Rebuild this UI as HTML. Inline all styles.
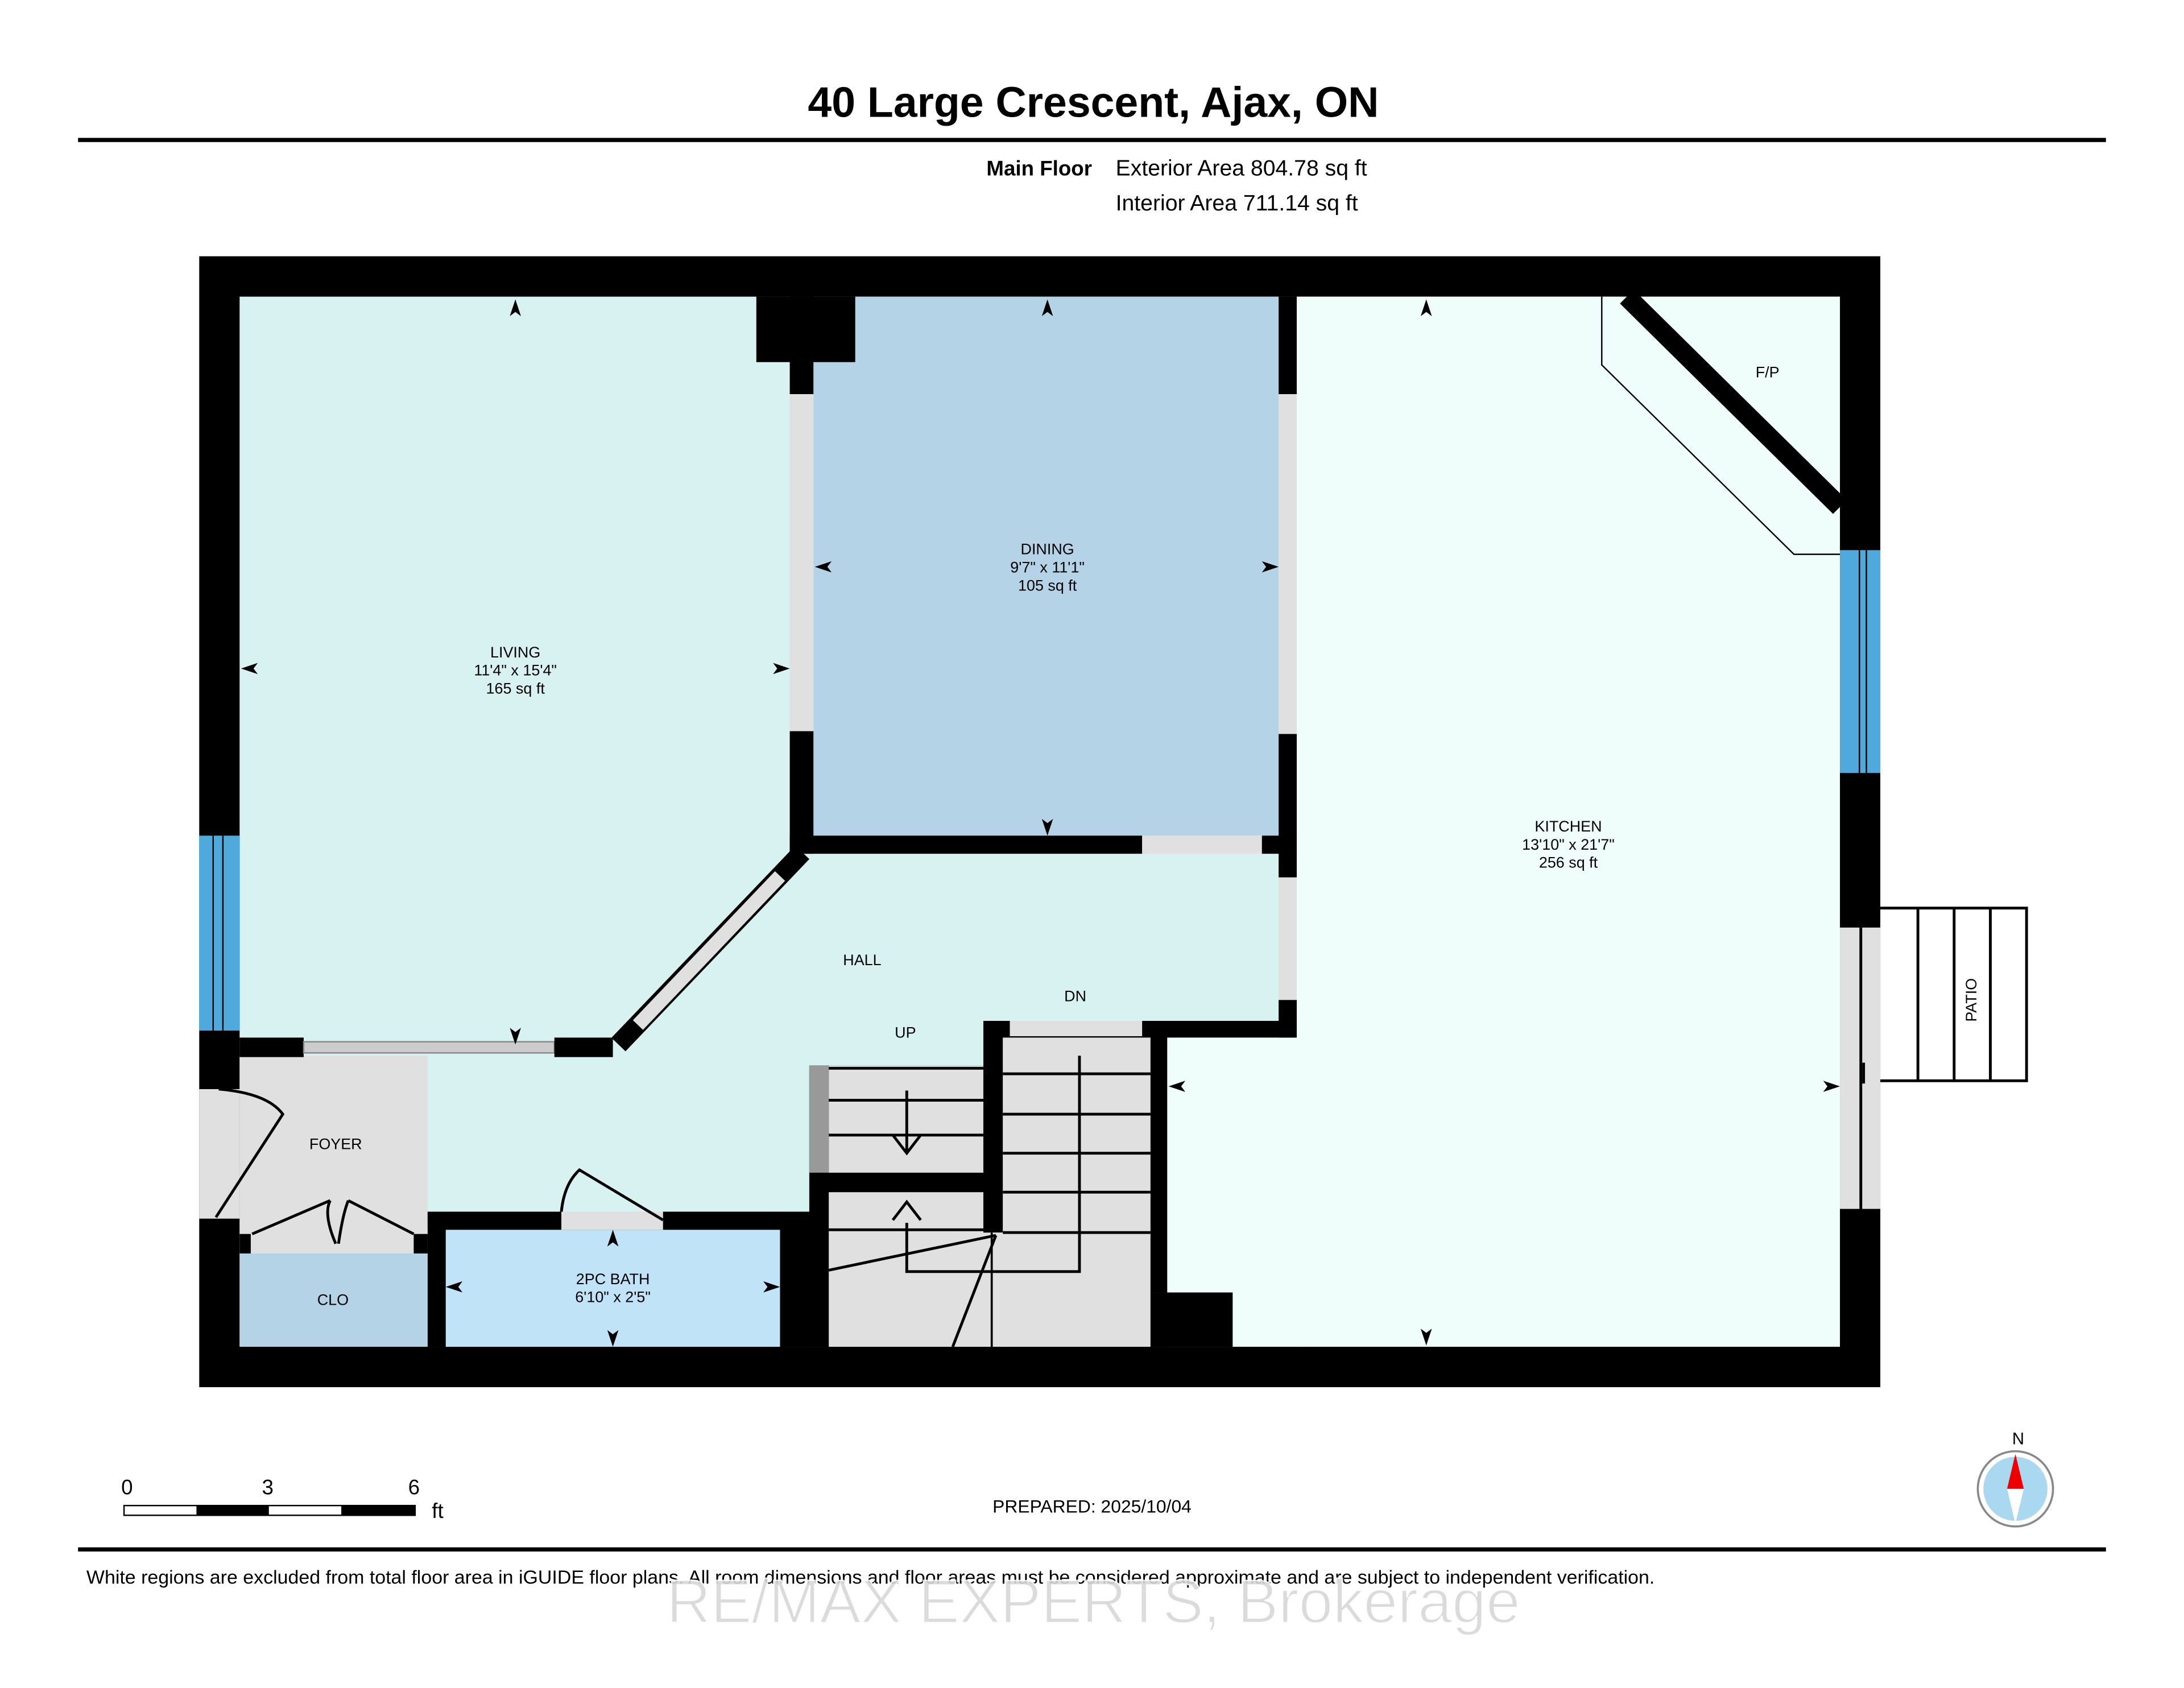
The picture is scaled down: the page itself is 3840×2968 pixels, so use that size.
<!DOCTYPE html>
<html><head><meta charset="utf-8"><style>
html,body{margin:0;padding:0;background:#fff;}
svg{display:block;}
text{font-family:"Liberation Sans",Arial,sans-serif;}
</style></head><body>
<svg width="3840" height="2968" viewBox="0 0 1568 1212" xmlns="http://www.w3.org/2000/svg">
<defs><path id="a" d="M0,-8 L4,4 L0,1 L-4,4 Z" fill="#000"/></defs>
<rect width="1568" height="1212" fill="#fff"/>
<text x="580" y="84" font-size="30.5" font-weight="bold" textLength="410" lengthAdjust="spacingAndGlyphs">40 Large Crescent, Ajax, ON</text>
<rect x="56" y="99" width="1456" height="3" fill="#000"/>
<text x="784" y="126" font-size="15" font-weight="bold" text-anchor="end">Main Floor</text>
<text x="801" y="126" font-size="16">Exterior Area 804.78 sq ft</text>
<text x="801" y="151" font-size="16">Interior Area 711.14 sq ft</text>

<rect x="143" y="184" width="1207" height="812" fill="#000"/>
<rect x="172" y="213" width="1149" height="754" fill="#d8f2f2"/>
<rect x="931" y="213" width="390" height="754" fill="#effdfb"/>
<rect x="838" y="742" width="100" height="225" fill="#effdfb"/>
<rect x="584" y="213" width="334" height="387" fill="#b4d3e6"/>
<rect x="172" y="758" width="135" height="128" fill="#e0e0e0"/>
<rect x="172" y="900" width="135" height="67" fill="#b4d3e6"/>
<rect x="172" y="886" width="135" height="14" fill="#e0e0e0"/>
<rect x="320" y="883" width="240" height="84" fill="#c0e3f7"/>
<rect x="307" y="870" width="13" height="97" fill="#000"/>
<rect x="307" y="870" width="288" height="13" fill="#000"/>
<rect x="403" y="870" width="73" height="13" fill="#e0e0e0"/>
<rect x="560" y="870" width="35" height="97" fill="#000"/>
<rect x="581" y="765" width="125" height="202" fill="#000"/>
<rect x="595" y="765" width="111" height="77" fill="#e0e0e0"/>
<rect x="581" y="765" width="14" height="77" fill="#999"/>
<rect x="595" y="856" width="117" height="111" fill="#e0e0e0"/>
<rect x="706" y="733" width="14" height="152" fill="#000"/>
<rect x="720" y="745" width="106" height="222" fill="#e0e0e0"/>
<rect x="712" y="885" width="14" height="82" fill="#e0e0e0"/>
<rect x="826" y="733" width="12" height="195" fill="#000"/>
<rect x="706" y="733" width="225" height="12" fill="#000"/>
<rect x="725" y="733" width="95" height="11" fill="#e0e0e0"/>
<rect x="826" y="928" width="59" height="39" fill="#000"/>
<g stroke="#000" stroke-width="2" fill="none">
<line x1="595" y1="767" x2="706" y2="767"/><line x1="595" y1="790" x2="706" y2="790"/><line x1="595" y1="815" x2="706" y2="815"/>
<line x1="595" y1="883" x2="712" y2="883"/>
<line x1="720" y1="771" x2="826" y2="771"/><line x1="720" y1="800" x2="826" y2="800"/><line x1="720" y1="828" x2="826" y2="828"/><line x1="720" y1="856" x2="826" y2="856"/><line x1="720" y1="885" x2="826" y2="885"/>
<path d="M651,783 V828 M641,815 L651,828 L661,815"/>
<path d="M651,878 V913 H775 V758 M641,876 L651,863 L661,876"/>
<line x1="715" y1="887" x2="595" y2="912"/><line x1="715" y1="887" x2="684" y2="967"/>
<line x1="712" y1="885" x2="712" y2="967" stroke-width="1.5"/>
</g>
<rect x="543" y="213" width="71" height="47" fill="#000"/>
<rect x="567" y="213" width="17" height="70" fill="#000"/>
<rect x="567" y="283" width="17" height="242" fill="#e0e0e0"/>
<rect x="567" y="525" width="17" height="88" fill="#000"/>
<rect x="918" y="213" width="13" height="70" fill="#000"/>
<rect x="918" y="283" width="13" height="244" fill="#e0e0e0"/>
<rect x="918" y="527" width="13" height="103" fill="#000"/>
<rect x="918" y="630" width="13" height="88" fill="#e0e0e0"/>
<rect x="918" y="718" width="13" height="27" fill="#000"/>
<rect x="567" y="600" width="253" height="13" fill="#000"/>
<rect x="820" y="600" width="86" height="13" fill="#e0e0e0"/>
<rect x="906" y="600" width="25" height="13" fill="#000"/>
<line x1="576" y1="612" x2="444" y2="750" stroke="#000" stroke-width="14"/>
<line x1="560" y1="629" x2="458" y2="736" stroke="#e0e0e0" stroke-width="10"/>
<rect x="172" y="745" width="46" height="14" fill="#000"/>
<rect x="218" y="748" width="180" height="8" fill="#ccc" stroke="#888" stroke-width="1"/>
<rect x="398" y="745" width="42" height="14" fill="#000"/>
<rect x="143" y="600" width="29" height="140" fill="#4fa9dc"/>
<line x1="153" y1="600" x2="153" y2="740" stroke="#000" stroke-width="1"/><line x1="160" y1="600" x2="160" y2="740" stroke="#000" stroke-width="1"/>
<rect x="143" y="782" width="29" height="93" fill="#e0e0e0"/>
<g stroke="#000" stroke-width="2" fill="none">
<path d="M155,874 L203,800 Q192,785 157,782"/>
<path d="M181,886 L237,862 M237,862 Q232,872 241,893 M297,886 L250,862 M250,862 Q246,872 243,893"/>
</g>
<rect x="172" y="886" width="8" height="14" fill="#000"/><rect x="297" y="886" width="10" height="14" fill="#000"/>
<path d="M403,870 Q405,850 416,840 L476,876" stroke="#000" stroke-width="2" fill="none"/>
<rect x="1321" y="395" width="29" height="160" fill="#4fa9dc"/>
<line x1="1335" y1="395" x2="1335" y2="555" stroke="#000" stroke-width="1"/><line x1="1340" y1="395" x2="1340" y2="555" stroke="#000" stroke-width="1"/>
<rect x="1321" y="666" width="29" height="202" fill="#e0e0e0"/>
<line x1="1336" y1="666" x2="1336" y2="868" stroke="#000" stroke-width="2"/>
<line x1="1338" y1="763" x2="1338" y2="778" stroke="#000" stroke-width="2"/>
<polyline points="1150,213 1150,262 1288,398 1321,398" stroke="#000" stroke-width="1" fill="none"/>
<line x1="1168" y1="213" x2="1321" y2="364" stroke="#000" stroke-width="14"/>
<g stroke="#000" stroke-width="2" fill="none">
<path d="M1350,652 H1455 V776 H1350"/>
<line x1="1377" y1="652" x2="1377" y2="776"/><line x1="1403" y1="652" x2="1403" y2="776"/><line x1="1429" y1="652" x2="1429" y2="776"/>
</g>
<text x="0" y="0" font-size="11" text-anchor="middle" transform="translate(1419,718) rotate(-90)">PATIO</text>
<g font-size="11" text-anchor="middle">
<text x="370" y="472">LIVING</text><text x="370" y="485">11'4" x 15'4"</text><text x="370" y="498">165 sq ft</text>
<text x="752" y="398">DINING</text><text x="752" y="411">9'7" x 11'1"</text><text x="752" y="424">105 sq ft</text>
<text x="1126" y="597">KITCHEN</text><text x="1126" y="610">13'10" x 21'7"</text><text x="1126" y="623">256 sq ft</text>
<text x="440" y="922">2PC BATH</text><text x="440" y="935">6'10" x 2'5"</text>
<text x="619" y="693">HALL</text><text x="241" y="825">FOYER</text><text x="239" y="937">CLO</text>
<text x="650" y="745">UP</text><text x="772" y="719">DN</text><text x="1269" y="271">F/P</text>
</g>
<use href="#a" transform="translate(370,223)"/><use href="#a" transform="translate(370,742) rotate(180)"/>
<use href="#a" transform="translate(181,480) rotate(-90)"/><use href="#a" transform="translate(559,480) rotate(90)"/>
<use href="#a" transform="translate(752,223)"/><use href="#a" transform="translate(752,592) rotate(180)"/>
<use href="#a" transform="translate(593,407) rotate(-90)"/><use href="#a" transform="translate(910,407) rotate(90)"/>
<use href="#a" transform="translate(1024,223)"/><use href="#a" transform="translate(1024,958) rotate(180)"/>
<use href="#a" transform="translate(847,780) rotate(-90)"/><use href="#a" transform="translate(1313,780) rotate(90)"/>
<use href="#a" transform="translate(440,891)"/><use href="#a" transform="translate(440,959) rotate(180)"/>
<use href="#a" transform="translate(328,924) rotate(-90)"/><use href="#a" transform="translate(552,924) rotate(90)"/>
<g font-size="15"><text x="87" y="1073">0</text><text x="188" y="1073">3</text><text x="293" y="1073">6</text><text x="310" y="1090">ft</text></g>
<rect x="89" y="1081" width="209" height="7" fill="#fff" stroke="#000" stroke-width="1"/>
<rect x="141" y="1081" width="52" height="7" fill="#000"/><rect x="245" y="1081" width="53" height="7" fill="#000"/>
<text x="784" y="1086" font-size="13" text-anchor="middle">PREPARED: 2025/10/04</text>
<text x="1449" y="1037" font-size="12" text-anchor="middle">N</text>
<circle cx="1447" cy="1069" r="27" fill="#fff" stroke="#888" stroke-width="1.5"/>
<circle cx="1447" cy="1069" r="23" fill="#aad8f0"/>
<path d="M1447,1044 L1453,1069 L1441,1069 Z" fill="#e00"/>
<path d="M1447,1094 L1453,1069 L1441,1069 Z" fill="#fff"/>
<rect x="56" y="1111" width="1456" height="3" fill="#000"/>
<text x="62" y="1137" font-size="13.5" textLength="1126" lengthAdjust="spacingAndGlyphs">White regions are excluded from total floor area in iGUIDE floor plans. All room dimensions and floor areas must be considered approximate and are subject to independent verification.</text>
<text x="785" y="1165" font-size="44" text-anchor="middle" fill="#d8d8d8" stroke="#fff" stroke-width="1" opacity="0.9">RE/MAX EXPERTS, Brokerage</text>
</svg>
</body></html>
